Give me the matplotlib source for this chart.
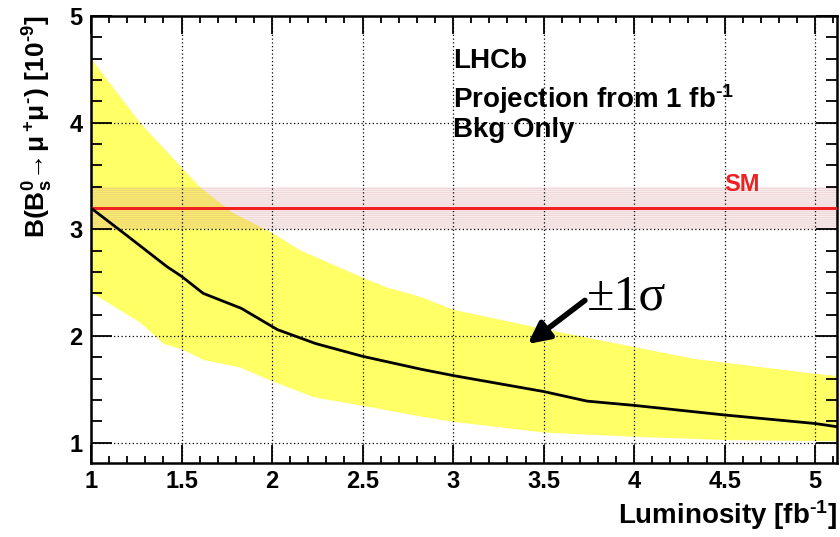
import matplotlib

matplotlib.use("Agg")
import matplotlib.pyplot as plt
from matplotlib.ticker import MultipleLocator

# central expected limit vs luminosity
lumi = [1.0, 1.2, 1.42, 1.5, 1.62, 1.83, 2.03, 2.24, 2.5, 2.82, 3.0, 3.5, 3.74, 4.0, 4.5, 5.0, 5.12]
central = [3.2, 2.94, 2.65, 2.56, 2.40, 2.26, 2.06, 1.93, 1.81, 1.69, 1.63, 1.48, 1.39, 1.35, 1.26, 1.18, 1.15]

# +/- 1 sigma band
band_x = [1.0, 1.27, 1.5, 1.6, 1.78, 2.0, 2.15, 2.5, 2.63, 2.82, 3.0, 3.5, 4.0, 4.33, 5.0, 5.12]
band_hi = [4.6, 4.0, 3.58, 3.40, 3.16, 2.97, 2.81, 2.55, 2.46, 2.37, 2.25, 2.07, 1.90, 1.79, 1.65, 1.63]
band_lo_x = [1.0, 1.27, 1.4, 1.5, 1.62, 1.82, 2.0, 2.23, 2.5, 2.82, 3.0, 3.5, 4.0, 4.5, 5.0, 5.12]
band_lo = [2.41, 2.13, 1.93, 1.88, 1.78, 1.71, 1.58, 1.43, 1.35, 1.25, 1.20, 1.10, 1.06, 1.03, 1.02, 1.02]

sm_value = 3.2
sm_lo, sm_hi = 3.0, 3.4

plt.rcParams["font.family"] = ["Liberation Sans", "DejaVu Sans"]
plt.rcParams["font.weight"] = "bold"
plt.rcParams["mathtext.fontset"] = "custom"
plt.rcParams["mathtext.rm"] = "Liberation Sans:bold"
plt.rcParams["mathtext.it"] = "Liberation Sans:bold"
plt.rcParams["mathtext.bf"] = "Liberation Sans:bold"
plt.rcParams["hatch.linewidth"] = 0.5

fig = plt.figure(figsize=(8.4, 5.37), dpi=100)
ax = fig.add_axes([0.1083, 0.1378, 0.8881, 0.8324])

ax.fill_between(band_x, band_hi, [0] * len(band_x), color="#ffff66", lw=0, zorder=1)
# lower edge: blank out below the band
ax.fill_between(band_lo_x, band_lo, [0] * len(band_lo_x), color="white", lw=0, zorder=1.1)
ax.fill_between([1.0, 5.12], [sm_lo, sm_lo], [sm_hi, sm_hi], facecolor=(0.85, 0.55, 0.55, 0.16),
                edgecolor=(0.85, 0.6, 0.6, 0.35), hatch="--------", lw=0, zorder=2)
ax.axhline(sm_value, color="#f02020", lw=2.2, zorder=3)
ax.plot(lumi, central, color="black", lw=2, zorder=4)

ax.set_xlim(1.0, 5.12)
ax.set_ylim(0.81, 5.0)
ax.xaxis.set_major_locator(MultipleLocator(0.5))
ax.xaxis.set_minor_locator(MultipleLocator(0.1))
ax.yaxis.set_major_locator(MultipleLocator(1))
ax.yaxis.set_minor_locator(MultipleLocator(0.2))
ax.xaxis.set_major_formatter(plt.FuncFormatter(lambda v, p: f"{v:g}"))
ax.yaxis.set_major_formatter(plt.FuncFormatter(lambda v, p: f"{v:g}"))
ax.tick_params(axis="both", which="both", direction="in", top=True, right=True, width=1.3)
ax.tick_params(axis="x", which="major", length=13, labelsize=17, pad=5)
ax.tick_params(axis="x", which="minor", length=5)
ax.tick_params(axis="y", which="major", length=15, labelsize=17, pad=6)
ax.tick_params(axis="y", which="minor", length=8)
ax.grid(True, which="major", color="black", ls=(0, (1, 2)), lw=0.9, zorder=2.5)
ax.set_axisbelow(False)
for s in ax.spines.values():
    s.set_linewidth(1.8)

ax.set_xlabel(r"Luminosity [fb$^{\text{-}1}$]", fontsize=20, fontweight="bold", loc="right", labelpad=4)
ax.set_ylabel(r"B(B$_s^0\!\rightarrow\!\mu^+\!\mu^{\text{-}}$) [10$^{\text{-}9}$]", fontsize=19,
              fontweight="bold", loc="top", labelpad=10)

ax.text(3.0, 4.51, "LHCb", fontsize=20, fontweight="bold", zorder=5)
ax.text(3.0, 4.14, r"Projection from 1 fb$^{\text{-}1}$", fontsize=20, fontweight="bold", zorder=5)
ax.text(3.0, 3.87, "Bkg Only", fontsize=20, fontweight="bold", zorder=5)
ax.text(4.5, 3.355, "SM", fontsize=17, fontweight="bold", color="#f02020", zorder=5)

ax.annotate("", xy=(3.40, 1.91), xytext=(3.74, 2.35),
            arrowprops=dict(arrowstyle="-|>", lw=4, color="black", mutation_scale=32), zorder=6)
ax.text(3.74, 2.36, "\u00b11\u03c3", fontsize=36, family=["Liberation Serif", "DejaVu Serif"],
        fontweight="normal", va="center", ha="left", zorder=6)

fig.savefig("out.png", dpi=100)
